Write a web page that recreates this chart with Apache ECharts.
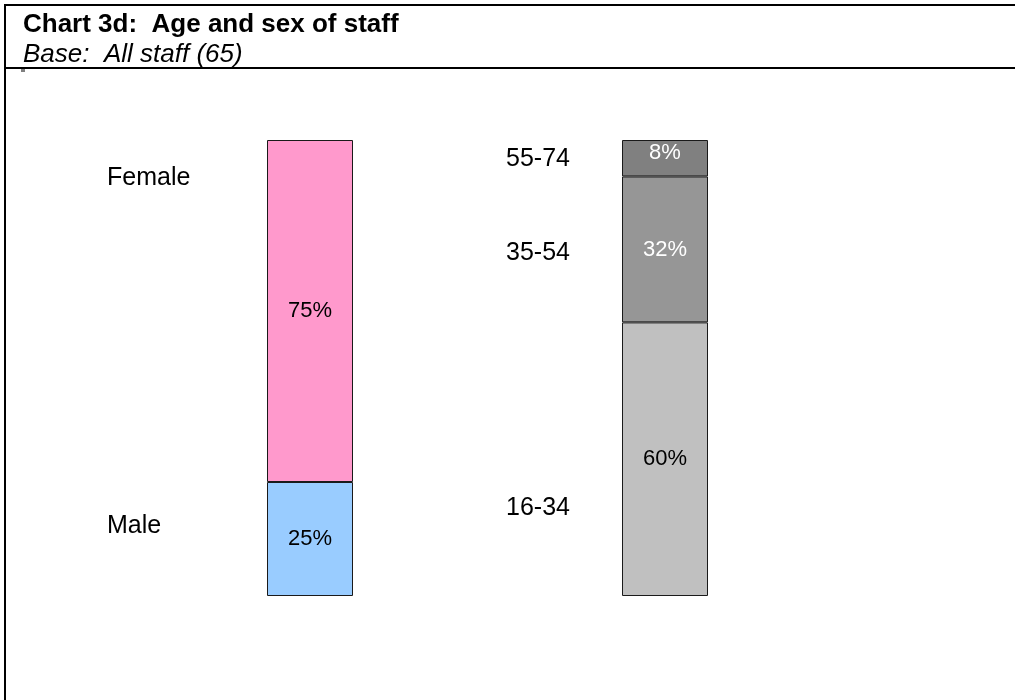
<!DOCTYPE html>
<html>
<head>
<meta charset="utf-8">
<title>Chart 3d: Age and sex of staff</title>
<script src="https://cdn.jsdelivr.net/npm/echarts@6/dist/echarts.min.js"></script>
<style>
  html, body { margin: 0; padding: 0; background: #fff; }
  #chart { width: 1015px; height: 700px; }
</style>
</head>
<body>
<div id="chart"></div>
<script>
// Two stacked columns: staff by sex and staff by age band (per cent of all staff)
const columns = ['Sex', 'Age'];
const sexNames = ['Male', 'Female'];
const sexValues = [25, 75];
const sexColors = ['#99CCFF', '#FF99CC'];
const ageNames = ['16-34', '35-54', '55-74'];
const ageValues = [60, 32, 8];
const ageColors = ['#C0C0C0', '#969696', '#808080'];
const ageLabelColors = ['#000000', '#ffffff', '#ffffff'];
const titleText = 'Chart 3d:  Age and sex of staff';
const baseText = 'Base:  All staff (65)';

const FONT = 'Liberation Sans, Arial, sans-serif';

function segment(name, value, colIndex, color, labelColor, labelOffset) {
  const data = columns.map((c, i) => (i === colIndex ? value : '-'));
  return {
    name: name,
    type: 'bar',
    stack: 'total',
    barWidth: 86,
    data: data,
    itemStyle: { color: color, borderColor: '#1a1a1a', borderWidth: 1 },
    label: {
      show: true,
      position: 'inside',
      formatter: p => p.value + '%',
      color: labelColor,
      fontFamily: FONT,
      fontSize: 22,
      offset: labelOffset || [0, 0]
    },
    emphasis: { disabled: true },
    animation: false
  };
}

const series = [];
sexValues.forEach((v, i) => series.push(segment(sexNames[i], v, 0, sexColors[i], '#000')));
ageValues.forEach((v, i) =>
  series.push(segment(ageNames[i], v, 1, ageColors[i], ageLabelColors[i], i === 2 ? [0, -5] : [0, 0])));

// Free-standing category captions beside each column
const captions = [
  { text: 'Female', x: 107, y: 178 },
  { text: 'Male', x: 107, y: 526 },
  { text: '55-74', x: 506, y: 159 },
  { text: '35-54', x: 506, y: 253 },
  { text: '16-34', x: 506, y: 508 }
];

const chart = echarts.init(document.getElementById('chart'), null, { renderer: 'canvas' });
chart.setOption({
  animation: false,
  backgroundColor: '#ffffff',
  grid: { left: 132.5, width: 710, top: 140, height: 456, containLabel: false },
  xAxis: {
    type: 'category',
    data: columns,
    show: false
  },
  yAxis: {
    type: 'value',
    min: 0,
    max: 100,
    show: false
  },
  tooltip: { show: false },
  series: series,
  graphic: [
    // frame lines
    { type: 'line', shape: { x1: 5, y1: 5, x2: 1015, y2: 5 }, style: { stroke: '#000', lineWidth: 2 } },
    { type: 'line', shape: { x1: 5, y1: 68, x2: 1015, y2: 68 }, style: { stroke: '#000', lineWidth: 2 } },
    { type: 'line', shape: { x1: 5, y1: 4, x2: 5, y2: 700 }, style: { stroke: '#000', lineWidth: 2 } },
    { type: 'rect', shape: { x: 21, y: 69, width: 4, height: 3 }, style: { fill: '#808080' } },
    {
      type: 'text', x: 23, y: 25,
      style: { text: titleText, font: 'bold 26px ' + FONT, fill: '#000', verticalAlign: 'middle' }
    },
    {
      type: 'text', x: 23, y: 55,
      style: { text: baseText, font: 'italic 26px ' + FONT, fill: '#000', verticalAlign: 'middle' }
    }
  ].concat(captions.map(c => ({
    type: 'text',
    x: c.x,
    y: c.y,
    style: { text: c.text, font: '25px ' + FONT, fill: '#000', verticalAlign: 'middle' }
  })))
});
</script>
</body>
</html>
